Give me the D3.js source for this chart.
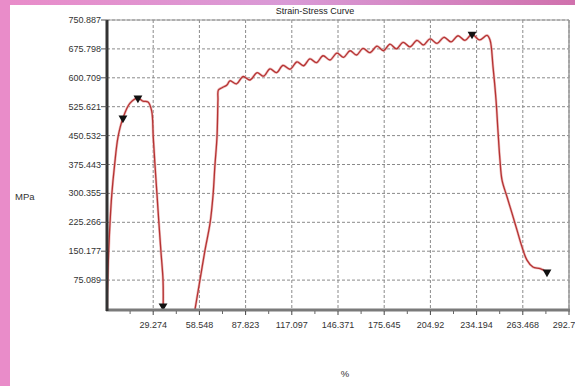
<!DOCTYPE html>
<html>
<head>
<meta charset="utf-8">
<script src="https://cdn.jsdelivr.net/npm/d3@7/dist/d3.min.js"></script>
<style>
  html, body { margin: 0; padding: 0; background: #fff; }
  svg { display: block; font-family: "Liberation Sans", Arial, sans-serif; }
</style>
</head>
<body>
<svg id="chart" width="575" height="386"></svg>
<script>
// ---- data ----
const title = "Strain-Stress Curve";
const yLabel = "MPa";
const xLabel = "%";
const xMax = 292.742;
const yMax = 750.887;
const xTickValues = [29.274, 58.548, 87.823, 117.097, 146.371, 175.645, 204.92, 234.194, 263.468, 292.742];
const xTickLabels = ["29.274", "58.548", "87.823", "117.097", "146.371", "175.645", "204.92", "234.194", "263.468", "292.742"];
const yTickValues = [75.089, 150.177, 225.266, 300.355, 375.443, 450.532, 525.621, 600.709, 675.798, 750.887];
const yTickLabels = ["75.089", "150.177", "225.266", "300.355", "375.443", "450.532", "525.621", "600.709", "675.798", "750.887"];

// first loading segment (strain %, stress MPa)
const strain1 = [0, 0.44, 1.1, 1.9, 3.0, 4.8, 7.0, 10.1, 14.6, 19.6, 22.8, 26.0, 28.3, 29.3, 30.4, 31.7, 32.9, 34.2, 35.5, 35.6];
const stress1 = [0, 75, 153, 223, 296, 374, 447, 496, 535, 548, 540, 538, 515, 447, 374, 296, 223, 148, 75, 5];

// second loading segment (strain %, stress MPa)
const strain2 = [55.8, 58.9, 62.1, 65.3, 67.2, 68.4, 69.7, 70.3, 70.6, 72.9, 76.0,
  77.9, 82.1, 86.2, 90.6, 95.1, 99.2, 103.3, 107.4, 111.5, 116.0, 120.4, 124.5,
  128.6, 132.7, 136.9, 141.3, 145.7, 149.9, 154.0, 158.1, 162.2, 166.6, 171.1, 175.2,
  179.3, 183.4, 187.6, 192.0, 196.4, 200.5, 204.7, 209.1, 213.5, 218.0, 222.4, 226.8,
  231.3, 236.0, 240.8,
  242.7, 244.6, 246.5, 247.7, 249.0, 250.3, 253.5, 256.6, 259.8, 263.0, 266.1, 269.9, 274.4, 278.8];
const stress2 = [0, 75, 153, 223, 296, 374, 447, 543, 569, 575, 582,
  593, 585, 604, 595, 614, 605, 624, 614, 633, 623, 642, 632,
  650, 640, 658, 647, 665, 654, 671, 660, 677, 666, 683, 671,
  688, 676, 693, 681, 698, 686, 702, 690, 706, 694, 710, 698,
  714, 699, 711,
  699, 629, 543, 465, 387, 335, 291, 249, 205, 161, 127, 109, 105, 96];

// marker points
const markerStrain = [10.1, 19.6, 35.5, 231.3, 278.8];
const markerStress = [496, 548, 5, 714, 96];

// ---- layout ----
const svg = d3.select("#chart");
const W = 575, H = 386;
const pLeft = 107, pRight = 569, pTop = 20, pBottom = 309;

const x = d3.scaleLinear().domain([0, xMax]).range([pLeft, pRight]);
const y = d3.scaleLinear().domain([0, yMax]).range([pBottom, pTop]);

// background frame
const defs = svg.append("defs");
const grad = defs.append("linearGradient").attr("id", "topgrad").attr("x1", "0").attr("x2", "1");
grad.append("stop").attr("offset", "0").attr("stop-color", "#e98cc9");
grad.append("stop").attr("offset", "0.5").attr("stop-color", "#d99ad6");
grad.append("stop").attr("offset", "1").attr("stop-color", "#d071ad");
svg.append("rect").attr("x", 0).attr("y", 0).attr("width", W).attr("height", H).attr("fill", "#fff");
svg.append("rect").attr("x", 0).attr("y", 0).attr("width", W).attr("height", 5).attr("fill", "url(#topgrad)");
svg.append("rect").attr("x", 0).attr("y", 0).attr("width", 10).attr("height", H).attr("fill", "#e98cc9");

defs.append("clipPath").attr("id", "plotclip")
  .append("rect").attr("x", pLeft).attr("y", pTop).attr("width", pRight - pLeft).attr("height", pBottom - pTop);

// grid
const grid = svg.append("g");
grid.selectAll("line.vg").data(xTickValues).enter().append("line")
  .attr("x1", d => x(d)).attr("x2", d => x(d)).attr("y1", pTop).attr("y2", pBottom)
  .attr("stroke", "#8a8a8a").attr("stroke-width", 1).attr("stroke-dasharray", "3,2");
grid.selectAll("line.hg").data(yTickValues).enter().append("line")
  .attr("x1", pLeft).attr("x2", pRight).attr("y1", d => y(d)).attr("y2", d => y(d))
  .attr("stroke", "#8a8a8a").attr("stroke-width", 1).attr("stroke-dasharray", "3,2");

// frame top/right
svg.append("line").attr("x1", pLeft).attr("x2", pRight).attr("y1", pTop).attr("y2", pTop)
  .attr("stroke", "#9a9a9a").attr("stroke-width", 1);
svg.append("line").attr("x1", pRight).attr("x2", pRight).attr("y1", pTop).attr("y2", pBottom)
  .attr("stroke", "#9a9a9a").attr("stroke-width", 1.5);

// curves
const line = d3.line().x(d => x(d[0])).y(d => y(d[1])).curve(d3.curveCatmullRom.alpha(0.5));
const seg1 = strain1.map((s, i) => [s, stress1[i]]);
const seg2 = strain2.map((s, i) => [s, stress2[i]]);
const cg = svg.append("g").attr("clip-path", "url(#plotclip)");
[seg1, seg2].forEach(seg => {
  cg.append("path").datum(seg).attr("d", line).attr("fill", "none")
    .attr("stroke", "#e7a3a3").attr("stroke-width", 2.6).attr("stroke-opacity", 0.7);
  cg.append("path").datum(seg).attr("d", line).attr("fill", "none")
    .attr("stroke", "#b53333").attr("stroke-width", 1.3);
});

// markers
const tri = d3.symbol().type(d3.symbolTriangle).size(34);
svg.append("g").selectAll("path").data(markerStrain.map((s, i) => [s, markerStress[i]])).enter()
  .append("path").attr("d", tri)
  .attr("transform", d => `translate(${x(d[0])},${Math.min(y(d[1]), pBottom - 3)}) rotate(180)`)
  .attr("fill", "#111");

// x axis
const xAxis = svg.append("g");
xAxis.append("line").attr("x1", pLeft - 1).attr("x2", pRight + 1).attr("y1", pBottom + 1).attr("y2", pBottom + 1)
  .attr("stroke", "#7a7a7a").attr("stroke-width", 3);
const xMinor = d3.range(0, 10).map(i => (i + 0.5) * xMax / 10);
xAxis.selectAll("line.mn").data(xMinor).enter().append("line")
  .attr("x1", d => x(d)).attr("x2", d => x(d)).attr("y1", pBottom + 2).attr("y2", pBottom + 5)
  .attr("stroke", "#666").attr("stroke-width", 1);
xAxis.selectAll("line.mj").data(xTickValues).enter().append("line")
  .attr("x1", d => x(d)).attr("x2", d => x(d)).attr("y1", pBottom + 2).attr("y2", pBottom + 6)
  .attr("stroke", "#444").attr("stroke-width", 1);
xAxis.selectAll("text").data(xTickValues).enter().append("text")
  .attr("x", d => x(d)).attr("y", pBottom + 19)
  .attr("text-anchor", "middle").attr("font-size", "9px").attr("fill", "#333")
  .text((d, i) => xTickLabels[i]);

// y axis
const yAxis = svg.append("g");
yAxis.append("line").attr("x1", pLeft).attr("x2", pLeft).attr("y1", pTop).attr("y2", pBottom + 2)
  .attr("stroke", "#333").attr("stroke-width", 3);
yAxis.selectAll("line.tk").data(yTickValues).enter().append("line")
  .attr("x1", pLeft - 6).attr("x2", pLeft).attr("y1", d => y(d)).attr("y2", d => y(d))
  .attr("stroke", "#555").attr("stroke-width", 1);
yAxis.selectAll("text").data(yTickValues).enter().append("text")
  .attr("x", pLeft - 6).attr("y", d => y(d) + 3)
  .attr("text-anchor", "end").attr("font-size", "9px").attr("fill", "#333")
  .text((d, i) => yTickLabels[i]);

// titles
svg.append("text").attr("x", 315).attr("y", 14).attr("text-anchor", "middle")
  .attr("font-size", "9px").attr("fill", "#222").text(title);
svg.append("text").attr("x", 15).attr("y", 200).attr("font-size", "9.5px").attr("fill", "#333").text(yLabel);
svg.append("text").attr("x", 345).attr("y", 377).attr("text-anchor", "middle")
  .attr("font-size", "9.5px").attr("fill", "#333").text(xLabel);
</script>
</body>
</html>
